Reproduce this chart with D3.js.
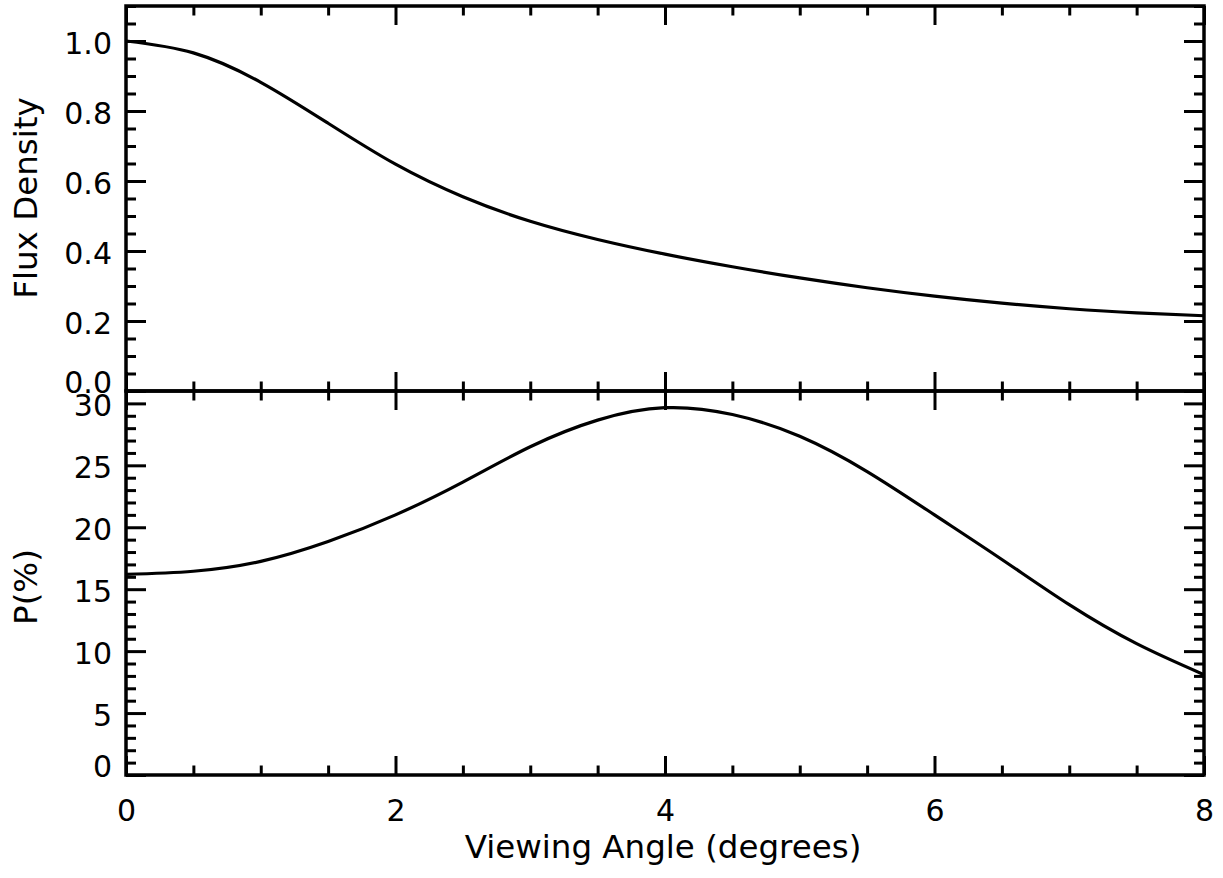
<!DOCTYPE html>
<html>
<head>
<meta charset="utf-8">
<script src="https://cdn.jsdelivr.net/npm/d3@7"></script>
<style>
  body { margin: 0; background: #fff; }
  svg { display: block; }
  text { font-family: "DejaVu Sans", sans-serif; fill: #000; }
</style>
</head>
<body>
<div id="chart"></div>
<script>
// viewing angle (degrees) and the two model curves
const angle = [0, 0.5, 1, 1.5, 2, 2.5, 3, 3.5, 4, 4.5, 5, 5.5, 6, 6.5, 7, 7.5, 8];
const flux = [1.000, 0.966, 0.882, 0.765, 0.648, 0.555, 0.485, 0.433, 0.391, 0.355, 0.323, 0.295, 0.271, 0.251, 0.235, 0.223, 0.215];
const pol = [16.2, 16.45, 17.25, 18.85, 21.0, 23.65, 26.5, 28.65, 29.65, 29.1, 27.35, 24.5, 21.0, 17.4, 13.75, 10.6, 8.1];

const xMajor = [0, 2, 4, 6, 8];
const xMinor = d3.range(0, 8.01, 0.5);
const fluxMajor = [0, 0.2, 0.4, 0.6, 0.8, 1.0];
const fluxMinor = d3.range(0, 1.101, 0.05);
const polMajor = [0, 5, 10, 15, 20, 25, 30];
const polMinor = d3.range(0, 31, 1);

const width = 1223, height = 878;
const box = { left: 126, right: 1204, top: 6, mid: 391, bottom: 775 };
const majorLen = 20, minorLen = 10;

const svg = d3.select("#chart")
  .append("svg")
  .attr("width", width)
  .attr("height", height);

const x = d3.scaleLinear().domain([0, 8]).range([box.left, box.right]);
const yFlux = d3.scaleLinear().domain([0, 1.1]).range([box.mid, box.top]);
const yPol = d3.scaleLinear().domain([0, 31]).range([box.bottom, box.mid]);

// draws one set of ticks; labels only if fmt is given
function ticks(axisFn, scale, values, len, transform, fmt) {
  const g = svg.append("g")
    .attr("transform", transform)
    .call(axisFn(scale)
      .tickValues(values)
      .tickSize(-len)
      .tickSizeOuter(0)
      .tickPadding(fmt ? 14 : 0)
      .tickFormat(fmt || (() => "")));
  g.select(".domain").remove();
  g.selectAll("line").attr("stroke", "#000").attr("stroke-width", 3);
  g.selectAll("text").attr("font-size", 30).attr("font-family", "DejaVu Sans");
  return g;
}

function yTicks(scale, major, minor, fmt) {
  const minorOnly = minor.filter(v => !major.some(m => Math.abs(m - v) < 1e-6));
  const g = ticks(d3.axisLeft, scale, major, majorLen, `translate(${box.left},0)`, fmt);
  // lowest label sits a little higher, clear of the axis below
  g.selectAll("text").attr("dy", d => d === scale.domain()[0] ? "0.05em" : "0.42em");
  ticks(d3.axisLeft, scale, minorOnly, minorLen, `translate(${box.left},0)`);
  ticks(d3.axisRight, scale, major, majorLen, `translate(${box.right},0)`);
  ticks(d3.axisRight, scale, minorOnly, minorLen, `translate(${box.right},0)`);
}

function xTicks(y0, dir, labelled) {
  const minorOnly = xMinor.filter(v => !xMajor.includes(v));
  const axisFn = dir === "down" ? d3.axisTop : d3.axisBottom;
  const g = ticks(axisFn, x, xMajor, 19, `translate(0,${y0})`, labelled ? d3.format("d") : null);
  if (labelled) g.selectAll("text").attr("y", 25);
  ticks(axisFn, x, minorOnly, 9.5, `translate(0,${y0})`);
}

// upper panel: flux density
yTicks(yFlux, fluxMajor, fluxMinor, d3.format(".1f"));
xTicks(box.top, "down", false);
xTicks(box.mid, "up", false);

// lower panel: polarisation
yTicks(yPol, polMajor, polMinor, d3.format("d"));
xTicks(box.mid, "down", false);
xTicks(box.bottom, "up", true);

// frames
[[box.top, box.mid], [box.mid, box.bottom]].forEach(([y0, y1]) => {
  svg.append("rect")
    .attr("x", box.left)
    .attr("y", y0)
    .attr("width", box.right - box.left)
    .attr("height", y1 - y0)
    .attr("fill", "none")
    .attr("stroke", "#000")
    .attr("stroke-width", 3.5);
});

const fluxLine = d3.line()
  .x((d, i) => x(angle[i]))
  .y(d => yFlux(d))
  .curve(d3.curveNatural);

const polLine = d3.line()
  .x((d, i) => x(angle[i]))
  .y(d => yPol(d))
  .curve(d3.curveNatural);

svg.append("path")
  .datum(flux)
  .attr("d", fluxLine)
  .attr("fill", "none")
  .attr("stroke", "#000")
  .attr("stroke-width", 3.2);

svg.append("path")
  .datum(pol)
  .attr("d", polLine)
  .attr("fill", "none")
  .attr("stroke", "#000")
  .attr("stroke-width", 3.2);

// axis titles
svg.append("text")
  .attr("transform", "translate(37,198) rotate(-90)")
  .attr("text-anchor", "middle")
  .attr("font-size", 32.5)
  .text("Flux Density");

svg.append("text")
  .attr("transform", "translate(37,587) rotate(-90)")
  .attr("text-anchor", "middle")
  .attr("font-size", 32.5)
  .text("P(%)");

svg.append("text")
  .attr("x", 663)
  .attr("y", 858)
  .attr("text-anchor", "middle")
  .attr("font-size", 32.5)
  .text("Viewing Angle (degrees)");
</script>
</body>
</html>
